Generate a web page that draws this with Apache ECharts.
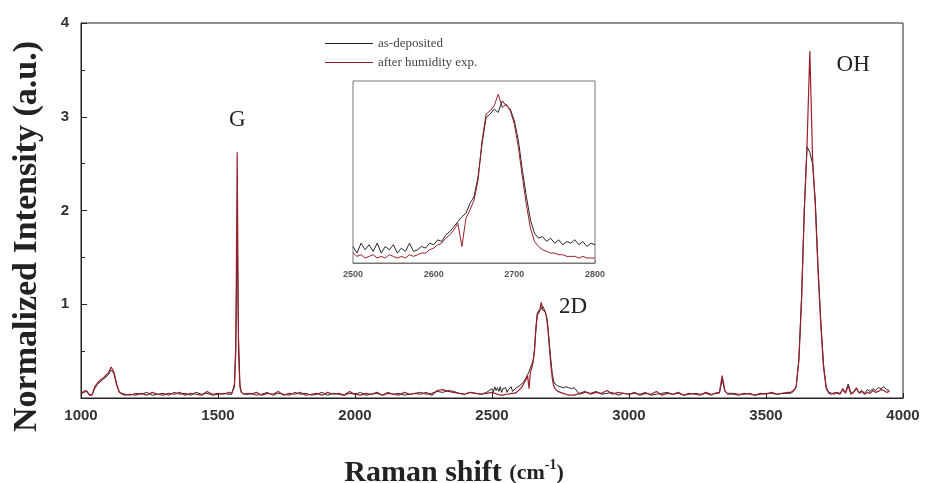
<!DOCTYPE html>
<html>
<head>
<meta charset="utf-8">
<script src="https://cdn.jsdelivr.net/npm/echarts@6/dist/echarts.min.js"></script>
<style>
  html, body { margin: 0; padding: 0; background: #fff; }
  #chart { width: 927px; height: 483px; }
</style>
</head>
<body>
<div id="chart"></div>
<script>
// Raman shift (cm-1), part below the 2D region
const shiftA = [
  1000, 1010, 1020, 1030, 1040, 1050, 1060, 1070, 1080, 1090, 1100, 1110, 1120, 1130, 1140, 1150, 1160,
  1180, 1200, 1220, 1240, 1260, 1280, 1300, 1320, 1340, 1360, 1380, 1400, 1420, 1440, 1460, 1480, 1500, 1520, 1540,
  1550, 1555, 1560, 1565, 1570, 1575, 1580, 1585, 1590, 1595, 1600, 1610,
  1620, 1640, 1660, 1680, 1700, 1720, 1740, 1760, 1780, 1800, 1820, 1840, 1860, 1880, 1900, 1920, 1940, 1960, 1980, 2000, 2020, 2040,
  2060, 2080, 2100, 2120, 2140, 2160, 2180, 2200, 2220, 2240, 2260, 2280, 2300, 2320, 2340, 2360, 2380, 2400, 2420, 2440, 2460, 2480
];
const asDepA = [
  .04, .06, .07, .03, .03, .10, .15, .17, .20, .22, .25, .30, .26, .14, .06, .05, .04,
  .03, .05, .04, .06, .03, .04, .05, .03, .06, .04, .05, .03, .06, .04, .05, .03, .04, .05, .04,
  .04, .05, .15, .60, 1.72, .65, .15, .06, .05, .04, .05, .04,
  .05, .03, .04, .06, .03, .05, .04, .03, .06, .04, .05, .03, .04, .06, .03, .05, .04, .03, .05, .04, .06, .03,
  .04, .05, .03, .06, .04, .05, .03, .04, .05, .06, .04, .05, .07, .06, .08, .07, .05, .04, .06, .05, .04, .06
];
const humidA = [
  .05, .07, .08, .04, .03, .12, .16, .19, .21, .24, .27, .33, .28, .15, .06, .04, .03,
  .04, .03, .05, .03, .06, .04, .03, .05, .04, .06, .03, .05, .04, .03, .07, .04, .05, .04, .06,
  .05, .06, .12, .50, 2.62, .45, .12, .06, .05, .04, .04, .05,
  .04, .06, .03, .05, .04, .07, .03, .05, .04, .06, .03, .04, .05, .03, .06, .04, .05, .03, .07, .04, .03, .05,
  .04, .06, .03, .05, .04, .03, .06, .04, .05, .04, .06, .03, .08, .09, .07, .06, .05, .04, .06, .05, .04, .05
];

// 2D band, 2500-2800 (also shown in the inset)
const shiftInset = [
  2500, 2505, 2510, 2515, 2520, 2525, 2530, 2535, 2540, 2545, 2550, 2555, 2560, 2565, 2570, 2575, 2580, 2585, 2590, 2595,
  2600, 2605, 2610, 2615, 2620, 2625, 2630, 2635, 2640, 2645, 2650, 2655, 2660, 2665, 2670, 2675, 2680, 2685, 2690, 2695,
  2700, 2705, 2710, 2715, 2720, 2725, 2730, 2735, 2740, 2745, 2750, 2755, 2760, 2765, 2770, 2775, 2780, 2785, 2790, 2795, 2800
];
const asDepInset = [
  .10, .06, .12, .08, .11, .07, .12, .06, .10, .08, .11, .06, .09, .07, .12, .07, .08, .10, .09, .12,
  .11, .14, .13, .17, .19, .22, .25, .28, .30, .36, .40, .52, .72, .88, .90, .93, .91, .98, .95, .93,
  .86, .74, .56, .40, .26, .18, .15, .16, .13, .15, .12, .14, .11, .13, .12, .14, .11, .13, .10, .12, .11
];
const humidInset = [
  .06, .04, .05, .03, .04, .05, .03, .04, .03, .05, .04, .03, .04, .03, .05, .04, .05, .06, .06, .08,
  .09, .11, .12, .15, .17, .20, .24, .10, .27, .32, .38, .50, .74, .90, .92, .95, 1.02, .94, .96, .92,
  .84, .70, .52, .35, .21, .13, .10, .08, .07, .06, .06, .05, .05, .04, .04, .04, .03, .04, .03, .03, .03
];

// part above the 2D region
const shiftB = [
  2820, 2840, 2860, 2880, 2900, 2920, 2940, 2960, 2980, 3000, 3020, 3040, 3060, 3080, 3100, 3120, 3140, 3160, 3180, 3200,
  3220, 3240, 3260, 3280, 3300, 3320,
  3330, 3340, 3350, 3360,
  3380, 3400, 3420, 3440, 3460, 3480, 3500, 3520, 3540, 3560, 3580,
  3590, 3600, 3610, 3620, 3630, 3640, 3650, 3660, 3670, 3680, 3690, 3700, 3710, 3720, 3730, 3740, 3750, 3760,
  3770, 3780, 3790, 3800, 3810, 3820, 3830, 3840, 3850, 3860, 3870, 3880, 3890, 3900, 3910, 3920, 3930, 3940, 3950
];
const asDepB = [
  .04, .06, .05, .07, .04, .05, .06, .03, .05, .04, .05, .04, .06, .03, .04, .05, .06, .04, .05, .03,
  .04, .05, .04, .05, .03, .06,
  .05, .20, .07, .05,
  .05, .04, .04, .05, .03, .04, .05, .05, .04, .05, .05,
  .05, .07, .11, .42, 1.10, 2.05, 2.68, 2.62, 2.50, 2.10, 1.40, .82, .36, .11, .06, .05, .04, .06,
  .05, .08, .06, .15, .05, .07, .09, .06, .08, .05, .09, .07, .10, .08, .11, .10, .12, .09, .08
];
const humidB = [
  .05, .07, .04, .06, .05, .08, .04, .06, .05, .04, .06, .03, .05, .04, .07, .03, .05, .04, .06, .03,
  .05, .04, .03, .06, .04, .05,
  .06, .24, .08, .04,
  .04, .03, .05, .04, .03, .05, .04, .06, .04, .05, .06,
  .06, .08, .12, .40, 1.05, 2.00, 2.72, 3.70, 2.55, 2.05, 1.35, .78, .32, .10, .05, .04, .06, .05,
  .04, .10, .05, .13, .04, .06, .11, .05, .07, .04, .06, .05, .08, .06, .07, .09, .08, .06, .07
];

const xTicks = { min: 1000, max: 4000, interval: 500 };
const yTicks = { min: 0, max: 4, interval: 1 };
const insetX = { min: 2500, max: 2800, interval: 100 };
const insetY = { min: 0, max: 1.1, interval: 0.5 };

const pairs = (xs, ys) => xs.map((x, i) => [x, ys[i]]);
const mainAsDep = pairs(shiftA.concat(shiftInset, shiftB), asDepA.concat(asDepInset, asDepB));
const mainHumid = pairs(shiftA.concat(shiftInset, shiftB), humidA.concat(humidInset, humidB));

const BLACK = '#262626';
const RED = '#9a1f2c';
const serif = '"Liberation Serif", "DejaVu Serif", serif';
const sans = '"Liberation Sans", Arial, sans-serif';
const plain = v => String(v);

const chart = echarts.init(document.getElementById('chart'));
chart.setOption({
  animation: false,
  backgroundColor: '#fff',
  legend: {
    left: 320, top: 32, orient: 'vertical', itemGap: 6,
    icon: 'rect', itemWidth: 48, itemHeight: 1,
    textStyle: { fontFamily: serif, fontSize: 13, color: '#444' },
    data: ['as-deposited', 'after humidity exp.']
  },
  grid: [
    { left: 81, top: 23, right: 24, bottom: 85, outerBoundsMode: 'none', show: true, borderColor: '#222', borderWidth: 1 },
    { left: 353, top: 81, width: 242, height: 182, outerBoundsMode: 'none', show: true, borderColor: '#777', borderWidth: 1, backgroundColor: '#fff', z: 5 }
  ],
  xAxis: [
    {
      gridIndex: 0, type: 'value', ...xTicks,
      axisLine: { lineStyle: { color: '#222' } },
      axisTick: { inside: true, length: 5, lineStyle: { color: '#222' } },
      splitLine: { show: false },
      axisLabel: { fontFamily: sans, fontWeight: 'bold', fontSize: 15, color: '#333', margin: 10, formatter: plain },
      name: '{a|Raman shift }{b|(cm}{c|-1}{b|)}',
      nameLocation: 'middle', nameGap: 60,
      nameTextStyle: {
        padding: [0, 76, 0, 0],
        rich: {
          a: { fontFamily: serif, fontWeight: 'bold', fontSize: 30, color: '#222' },
          b: { fontFamily: serif, fontWeight: 'bold', fontSize: 22, color: '#222' },
          c: { fontFamily: serif, fontWeight: 'bold', fontSize: 14, color: '#222', verticalAlign: 'top', padding: [0, 0, 14, 0] }
        }
      }
    },
    {
      gridIndex: 1, type: 'value', ...insetX,
      axisLine: { lineStyle: { color: '#777' } },
      axisTick: { inside: true, length: 3, lineStyle: { color: '#777' } },
      splitLine: { show: false },
      axisLabel: { fontFamily: sans, fontWeight: 'bold', fontSize: 9, color: '#555', margin: 7, formatter: plain }
    }
  ],
  yAxis: [
    {
      gridIndex: 0, type: 'value', ...yTicks,
      axisLine: { show: true, lineStyle: { color: '#222' } },
      axisTick: { inside: true, length: 6, lineStyle: { color: '#222' } },
      minorTick: { show: true, splitNumber: 2, length: 4, lineStyle: { color: '#222' } },
      splitLine: { show: false },
      axisLabel: {
        fontFamily: sans, fontWeight: 'bold', fontSize: 15, color: '#333', margin: 12,
        formatter: v => (v === 0 ? '' : String(v))
      },
      name: 'Normalized Intensity (a.u.)',
      nameLocation: 'middle', nameGap: 37,
      nameTextStyle: { fontFamily: serif, fontWeight: 'bold', fontSize: 34, color: '#222', padding: [0, 52, 0, 0] }
    },
    {
      gridIndex: 1, type: 'value', ...insetY,
      axisLine: { show: true, lineStyle: { color: '#777' } },
      axisTick: { inside: true, length: 3, lineStyle: { color: '#777' } },
      splitLine: { show: false },
      axisLabel: { show: false }
    }
  ],
  series: [
    {
      name: 'as-deposited', type: 'line', xAxisIndex: 0, yAxisIndex: 0,
      data: mainAsDep, symbol: 'none', lineStyle: { color: BLACK, width: 1 }, itemStyle: { color: BLACK }
    },
    {
      name: 'after humidity exp.', type: 'line', xAxisIndex: 0, yAxisIndex: 0,
      data: mainHumid, symbol: 'none', lineStyle: { color: RED, width: 1.2 }, itemStyle: { color: RED },
      markPoint: {
        symbol: 'circle', symbolSize: 0, silent: true,
        label: { show: true, position: 'inside', fontFamily: serif, fontSize: 23, color: '#222', formatter: '{b}' },
        data: [
          { name: 'G', coord: [1570, 2.97] },
          { name: '2D', coord: [2796, 0.97] },
          { name: 'OH', coord: [3818, 3.55] }
        ]
      }
    },
    {
      name: 'as-deposited', type: 'line', xAxisIndex: 1, yAxisIndex: 1, z: 6,
      data: pairs(shiftInset, asDepInset), symbol: 'none', lineStyle: { color: BLACK, width: 1 }
    },
    {
      name: 'after humidity exp.', type: 'line', xAxisIndex: 1, yAxisIndex: 1, z: 6,
      data: pairs(shiftInset, humidInset), symbol: 'none', lineStyle: { color: RED, width: 1 }
    }
  ]
});
</script>
</body>
</html>
